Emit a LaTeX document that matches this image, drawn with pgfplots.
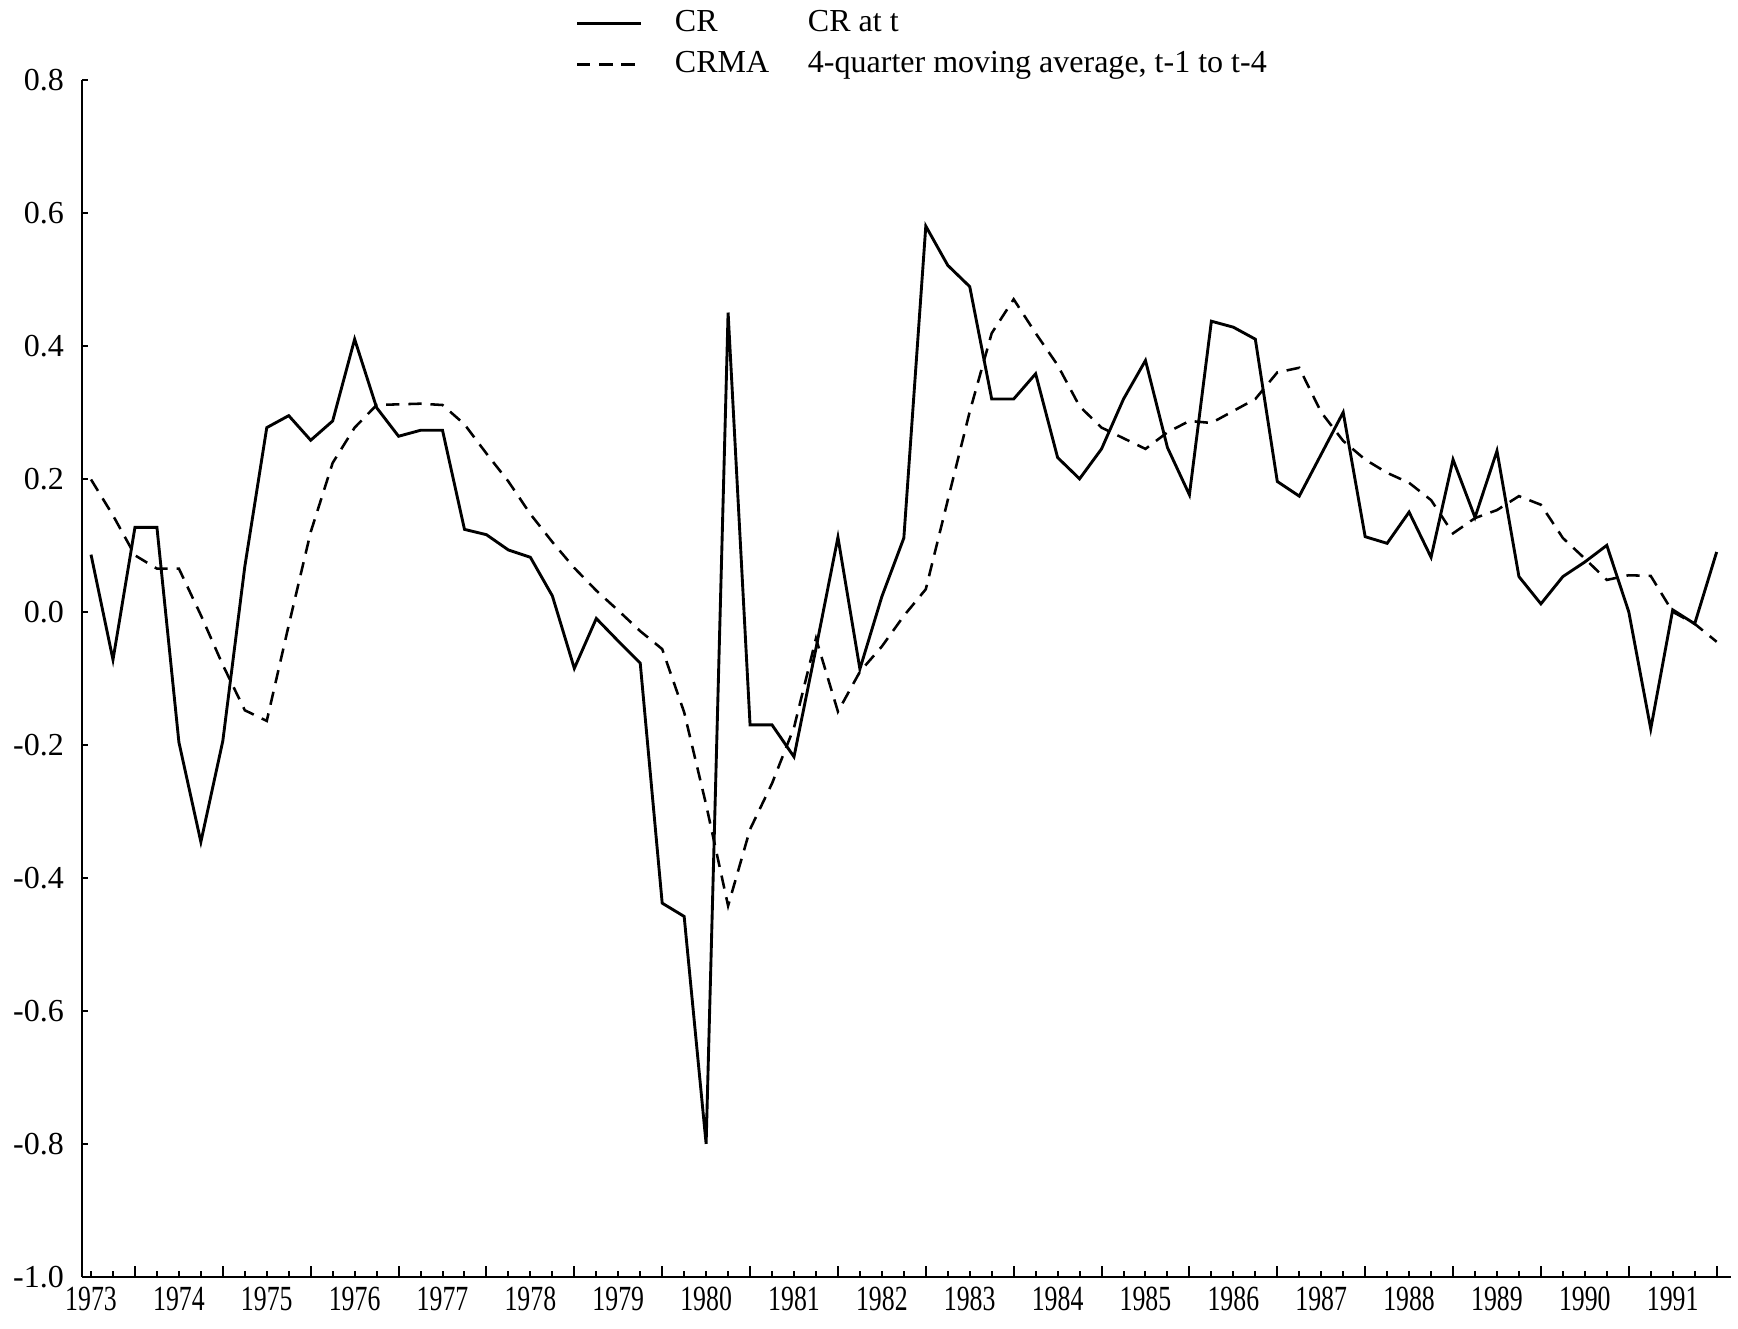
\documentclass[border=0pt]{standalone}
\usepackage{fontspec}
\setmainfont{Liberation Serif}
\usepackage{graphicx}
\usepackage{pgfplots}
\usepackage{pgfplotstable}
\pgfplotsset{compat=1.18}

\pgfplotstableread{
i cr crma
0 0.086 0.199
1 -0.072 0.145
2 0.127 0.085
3 0.127 0.065
4 -0.196 0.065
5 -0.346 -0.005
6 -0.194 -0.080
7 0.068 -0.148
8 0.277 -0.164
9 0.295 -0.020
10 0.258 0.120
11 0.287 0.224
12 0.410 0.277
13 0.307 0.311
14 0.264 0.312
15 0.273 0.313
16 0.273 0.311
17 0.124 0.282
18 0.116 0.238
19 0.093 0.196
20 0.082 0.147
21 0.024 0.105
22 -0.085 0.066
23 -0.010 0.032
24 -0.044 0.002
25 -0.077 -0.029
26 -0.438 -0.056
27 -0.458 -0.151
28 -0.800 -0.290
29 0.450 -0.442
30 -0.170 -0.327
31 -0.170 -0.258
32 -0.218 -0.174
33 -0.055 -0.040
34 0.112 -0.150
35 -0.086 -0.090
36 0.023 -0.052
37 0.111 -0.006
38 0.580 0.034
39 0.521 0.168
40 0.489 0.301
41 0.320 0.419
42 0.320 0.470
43 0.358 0.419
44 0.232 0.371
45 0.200 0.309
46 0.245 0.277
47 0.320 0.261
48 0.378 0.245
49 0.247 0.270
50 0.176 0.287
51 0.437 0.284
52 0.428 0.302
53 0.410 0.320
54 0.196 0.360
55 0.174 0.367
56 0.237 0.300
57 0.300 0.257
58 0.113 0.229
59 0.103 0.209
60 0.150 0.194
61 0.082 0.168
62 0.229 0.118
63 0.142 0.141
64 0.242 0.153
65 0.053 0.174
66 0.012 0.161
67 0.053 0.111
68 0.075 0.080
69 0.100 0.048
70 0.000 0.055
71 -0.176 0.054
72 0.003 0.000
73 -0.018 -0.018
74 0.090 -0.045
}\data

\newcommand{\yr}[1]{\scalebox{0.73}[1]{#1}}

\begin{document}
\begin{tikzpicture}
\begin{axis}[
  at={(0,0)}, anchor=south west,
  scale only axis, width=744bp, height=540bp,
  xmin=-0.41, xmax=74.67, ymin=-1, ymax=0.8,
  axis lines=left,
  axis line style={-, line width=1.1bp},
  tick align=inside,
  xtick style={draw=black, line width=0.9bp},
  ytick style={draw=black, line width=0.9bp},
  major tick length=2.5bp,
  xtick={0,1,...,74},
  xticklabels={\yr{1973},{},{},{},\yr{1974},{},{},{},\yr{1975},{},{},{},\yr{1976},{},{},{},\yr{1977},{},{},{},\yr{1978},{},{},{},\yr{1979},{},{},{},\yr{1980},{},{},{},\yr{1981},{},{},{},\yr{1982},{},{},{},\yr{1983},{},{},{},\yr{1984},{},{},{},\yr{1985},{},{},{},\yr{1986},{},{},{},\yr{1987},{},{},{},\yr{1988},{},{},{},\yr{1989},{},{},{},\yr{1990},{},{},{},\yr{1991},{},{},{}},
  extra x ticks={2,6,...,74},
  extra x tick labels={},
  extra x tick style={major tick length=5bp},
  ytick={-1,-0.8,-0.6,-0.4,-0.2,0,0.2,0.4,0.6,0.8},
  yticklabel style={font=\fontsize{14.5}{17}\selectfont, inner sep=0pt, xshift=-8bp,
    /pgf/number format/fixed, /pgf/number format/fixed zerofill,
    /pgf/number format/precision=1, /pgf/number format/assume math mode=true},
  xticklabel style={font=\fontsize{16}{18}\selectfont, inner sep=0pt, yshift=-4.5bp, anchor=north},
  legend style={at={(0.299,1)}, anchor=south west, draw=none, fill=none,
    font=\fontsize{14.5}{17}\selectfont, inner sep=0pt, row sep=5bp,
    nodes={inner sep=0pt, text height=10.5bp, text depth=3bp},
    /tikz/every odd column/.append style={column sep=14.5bp}},
  legend cell align=left,
  legend image code/.code={\draw[#1] (0bp,0bp) -- (29bp,0bp);},
  clip=false,
]
\addplot[black, line width=1.3bp] table[x=i, y=cr] {\data};
\addlegendentry{\makebox[60bp][l]{CR}CR at t}
\addplot[black, line width=1.15bp, dash pattern=on 6bp off 4bp] table[x=i, y=crma] {\data};
\addlegendentry{\makebox[60bp][l]{CRMA}4-quarter moving average, t-1 to t-4}
\end{axis}
\pgfresetboundingbox
\path[use as bounding box] (-37bp,-23.5bp) rectangle (747bp,576bp);
\end{tikzpicture}
\end{document}
